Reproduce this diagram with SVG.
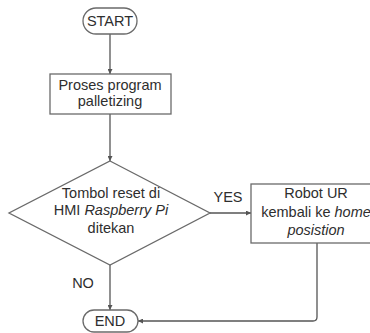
<svg xmlns="http://www.w3.org/2000/svg" width="370" height="333" viewBox="0 0 370 333">
<defs>
<style>
.shape{fill:#fff;stroke:#6a6a6a;stroke-width:1.3}
.edge{fill:none;stroke:#555;stroke-width:1.3}
text{font-family:"Liberation Sans",Arial,sans-serif;font-size:14.5px;fill:#2e2e2e;text-anchor:middle}
.it{font-style:italic}
</style>
<marker id="arr" viewBox="0 0 10 10" refX="10" refY="5" markerWidth="5" markerHeight="5" orient="auto" markerUnits="userSpaceOnUse">
<path d="M0,0 L10,5 L0,10 z" fill="#555"/>
</marker>
</defs>
<rect width="370" height="333" fill="#fff"/>
<g id="connectors">
<line class="edge" x1="110" y1="34" x2="110" y2="74" marker-end="url(#arr)"/>
<line class="edge" x1="110" y1="114" x2="110" y2="161" marker-end="url(#arr)"/>
<line class="edge" x1="210" y1="213" x2="251" y2="213" marker-end="url(#arr)"/>
<line class="edge" x1="110" y1="265" x2="110" y2="310" marker-end="url(#arr)"/>
<path class="edge" d="M317,243 V317 Q317,321 313,321 H138" marker-end="url(#arr)"/>
<text x="228" y="202">YES</text>
<text x="83" y="288">NO</text>
</g>
<g id="start">
<rect class="shape" x="83" y="8" width="54" height="26" rx="13"/>
<text x="110" y="26">START</text>
</g>
<g id="proses">
<rect class="shape" x="50" y="74" width="121" height="40"/>
<text x="110" y="90">Proses program</text>
<text x="110" y="106">palletizing</text>
</g>
<g id="decision">
<polygon class="shape" points="110,161 210,213 110,265 9,213"/>
<text x="111" y="198">Tombol reset di</text>
<text x="111" y="215">HMI <tspan class="it">Raspberry Pi</tspan></text>
<text x="111" y="233">ditekan</text>
</g>
<g id="robot">
<rect class="shape" x="251" y="184" width="132" height="59"/>
<text x="316" y="198">Robot UR</text>
<text x="316" y="217">kembali ke <tspan class="it">home</tspan></text>
<text x="316" y="235" class="it">posistion</text>
</g>
<g id="end">
<rect class="shape" x="83" y="310" width="55" height="22" rx="11"/>
<text x="110" y="326">END</text>
</g>
</svg>
